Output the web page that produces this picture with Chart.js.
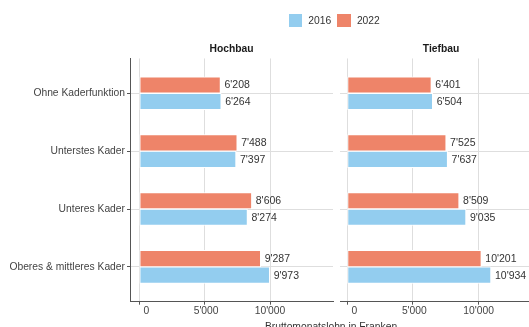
<!DOCTYPE html>
<html>
<head>
<meta charset="utf-8">
<script src="https://cdn.jsdelivr.net/npm/chart.js@4.4.1/dist/chart.umd.min.js"></script>
<style>
  body { margin: 0; background: #fff; }
  #wrap { position: relative; width: 529px; height: 327px; overflow: hidden; font-family: "Liberation Sans", Arial, sans-serif; }
  #chartA { position: absolute; left: 0; top: 0; }
  #chartB { position: absolute; left: 337px; top: 0; }
  #legend { position: absolute; left: 288.7px; top: 14px; display: flex; align-items: center; font-size: 10.3px; color: #333; }
  .key { width: 13.3px; height: 13.3px; }
  .lab { margin: 0 6.1px 0 6.3px; line-height: 13.3px; }
  #xtitle { position: absolute; left: 231px; width: 200px; top: 320.5px; text-align: center; font-size: 10.3px; line-height: 12px; color: #333; white-space: nowrap; }
</style>
</head>
<body>
<div id="wrap">
  <canvas id="chartA" width="336" height="340"></canvas>
  <canvas id="chartB" width="206" height="340"></canvas>
  <div id="legend"></div>
  <div id="xtitle">Bruttomonatslohn in Franken</div>
</div>
<script>
const FONT = "'Liberation Sans', Arial, sans-serif";
const BLUE = "#93cdef";
const RED = "#ee8469";
const GRID = "#dedede";
const AXIS = "#555";
const TEXT = "#444";

// data
const categories = ["Ohne Kaderfunktion", "Unterstes Kader", "Unteres Kader", "Oberes & mittleres Kader"];
const seriesNames = ["2016", "2022"];
const hochbau2016 = [6264, 7397, 8274, 9973];
const hochbau2022 = [6208, 7488, 8606, 9287];
const tiefbau2016 = [6504, 7637, 9035, 10934];
const tiefbau2022 = [6401, 7525, 8509, 10201];
const xTicks = [0, 5000, 10000];

function fmt(v) {
  return String(v).replace(/\B(?=(\d{3})+(?!\d))/g, "'");
}

// zahlen rechts neben den balken
const valueLabels = {
  id: "valueLabels",
  afterDatasetsDraw(chart) {
    const ctx = chart.ctx;
    ctx.save();
    ctx.font = "10.5px " + FONT;
    ctx.fillStyle = "#333";
    ctx.textAlign = "left";
    ctx.textBaseline = "middle";
    chart.data.datasets.forEach((ds, i) => {
      chart.getDatasetMeta(i).data.forEach((bar, j) => {
        ctx.fillText(fmt(ds.data[j].x), bar.x + 4, bar.y + 0.5);
      });
    });
    ctx.restore();
  },
};

function makePanel(id, title, v2016, v2022, xMin, xMax, showY) {
  const toPts = (vals) => vals.map((v, i) => ({ x: v, y: i }));
  const bar = { barThickness: 16.5, borderWidth: 1, borderColor: "#fff", borderSkipped: false };
  return new Chart(document.getElementById(id), {
    type: "bar",
    data: {
      datasets: [
        { label: seriesNames[1], data: toPts(v2022), backgroundColor: RED, ...bar },
        { label: seriesNames[0], data: toPts(v2016), backgroundColor: BLUE, ...bar },
      ],
    },
    options: {
      responsive: false,
      animation: false,
      indexAxis: "y",
      layout: { padding: { left: 0, right: showY ? 3 : 1, top: 0, bottom: 0 } },
      plugins: {
        legend: { display: false },
        tooltip: { enabled: false },
        title: {
          display: true,
          text: title,
          fullSize: false,
          color: "#1a1a1a",
          font: { family: FONT, size: 10.3, weight: "bold", lineHeight: 1.2 },
          padding: { top: 42.8, bottom: 3.3 },
        },
      },
      scales: {
        y: {
          type: "linear",
          reverse: true,
          min: -0.6,
          max: 3.6,
          offset: false,
          afterBuildTicks: (s) => { s.ticks = categories.map((c, i) => ({ value: i })); },
          afterFit: (s) => { s.width = showY ? 130 : 2; },
          ticks: {
            display: showY,
            autoSkip: false,
            padding: 2,
            color: TEXT,
            font: { family: FONT, size: 10.3 },
            callback: (v) => categories[v],
          },
          grid: { color: GRID, offset: false, drawTicks: showY, tickLength: 3, tickColor: AXIS },
          border: { display: showY, color: AXIS, width: 1 },
        },
        x: {
          type: "linear",
          min: xMin,
          max: xMax,
          afterBuildTicks: (s) => { s.ticks = xTicks.map((v) => ({ value: v })); },
          afterFit: (s) => { s.height = 38.3; },
          ticks: {
            autoSkip: false,
            maxRotation: 0,
            padding: 0,
            color: TEXT,
            font: { family: FONT, size: 10.3 },
            callback: (v) => fmt(v).padStart(6, " "),
          },
          grid: { color: GRID, tickLength: 3, tickColor: AXIS },
          border: { color: AXIS, width: 1 },
        },
      },
    },
    plugins: [valueLabels],
  });
}

makePanel("chartA", "Hochbau", hochbau2016, hochbau2022, -712, 14820, true);
makePanel("chartB", "Tiefbau", tiefbau2016, tiefbau2022, -530, 14815, false);

// legende
const legend = document.getElementById("legend");
[BLUE, RED].forEach((col, i) => {
  const key = document.createElement("div");
  key.className = "key";
  key.style.background = col;
  const lab = document.createElement("span");
  lab.className = "lab";
  lab.textContent = seriesNames[i];
  legend.appendChild(key);
  legend.appendChild(lab);
});
</script>
</body>
</html>
